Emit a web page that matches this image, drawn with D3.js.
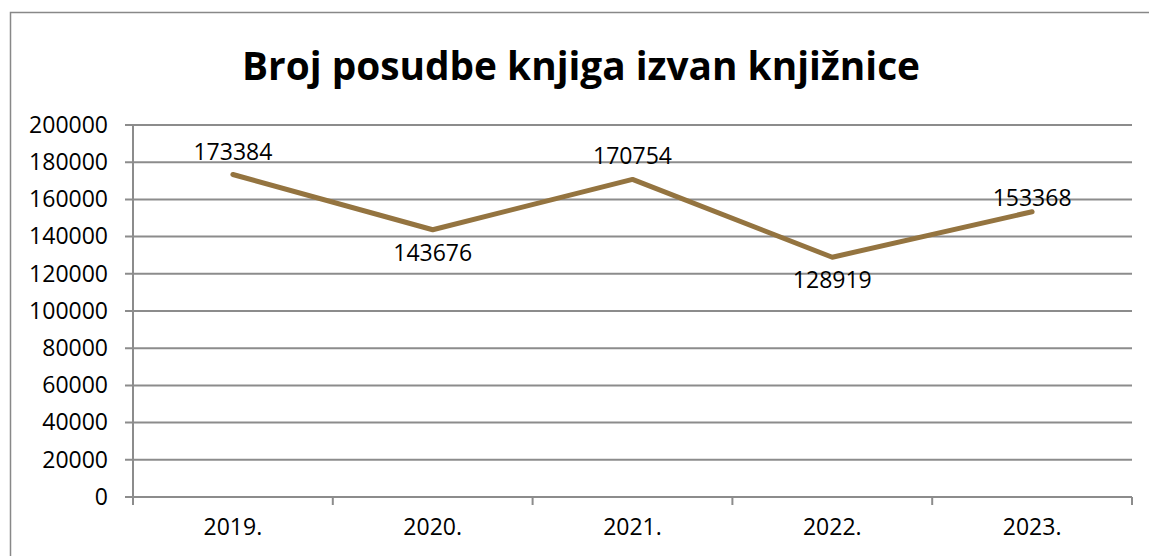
<!DOCTYPE html>
<html>
<head>
<meta charset="utf-8">
<script src="https://cdn.jsdelivr.net/npm/d3@7"></script>
<style>
  html, body { margin: 0; padding: 0; background: #fff; }
  svg { display: block; font-family: "Open Sans", "DejaVu Sans", sans-serif; }
</style>
</head>
<body>
<svg id="chart" width="1149" height="556"></svg>
<script>
const title = "Broj posudbe knjiga izvan knjižnice";
const years = ["2019.", "2020.", "2021.", "2022.", "2023."];
const loans = [173384, 143676, 170754, 128919, 153368];
const yTicks = [0, 20000, 40000, 60000, 80000, 100000, 120000, 140000, 160000, 180000, 200000];

const width = 1149, height = 556;
const plot = { left: 133, right: 1132, top: 125, bottom: 497 };
const gridColor = "#8c8c8c";
const lineColor = "#947440";

const svg = d3.select("#chart");

// chart frame
svg.append("rect")
  .attr("x", 10.5).attr("y", 12.5)
  .attr("width", 1160).attr("height", 600)
  .attr("fill", "#fff")
  .attr("stroke", "#888").attr("stroke-width", 1.5);

svg.append("text")
  .attr("x", 581).attr("y", 80)
  .attr("text-anchor", "middle")
  .attr("font-size", 40).attr("font-weight", 700)
  .attr("textLength", 678).attr("lengthAdjust", "spacingAndGlyphs")
  .attr("fill", "#000")
  .text(title);

const xScale = d3.scaleBand()
  .domain(years)
  .range([plot.left, plot.right]);

const yScale = d3.scaleLinear()
  .domain([0, 200000])
  .range([plot.bottom, plot.top]);

// gridlines
svg.append("g")
  .selectAll("line")
  .data(yTicks)
  .join("line")
  .attr("x1", plot.left - 8).attr("x2", plot.right)
  .attr("y1", d => yScale(d)).attr("y2", d => yScale(d))
  .attr("stroke", gridColor).attr("stroke-width", 2);

// y axis
const yAxis = svg.append("g")
  .attr("transform", `translate(${plot.left},0)`)
  .call(d3.axisLeft(yScale).tickValues(yTicks).tickSize(8).tickPadding(17).tickFormat(d3.format("d")));
yAxis.select(".domain").attr("stroke", gridColor).attr("stroke-width", 2).attr("d", `M0,${plot.top}V${plot.bottom}`);
yAxis.selectAll(".tick line").remove();
yAxis.selectAll(".tick text").attr("font-size", 23).attr("fill", "#000").attr("font-family", "Open Sans");

// x axis with ticks at category boundaries
const xAxis = svg.append("g")
  .attr("transform", `translate(0,${plot.bottom})`)
  .call(d3.axisBottom(xScale).tickSize(0).tickPadding(22));
xAxis.select(".domain").attr("stroke", gridColor).attr("stroke-width", 2).attr("d", `M${plot.left},0H${plot.right}`);
xAxis.selectAll(".tick text").attr("font-size", 23).attr("fill", "#000").attr("font-family", "Open Sans");

const bounds = years.map(d => xScale(d)).concat([xScale.range()[1]]);
xAxis.append("g")
  .selectAll("line")
  .data(bounds)
  .join("line")
  .attr("x1", d => d).attr("x2", d => d)
  .attr("y1", 0).attr("y2", 8)
  .attr("stroke", gridColor).attr("stroke-width", 2);

// line
const pts = years.map((y, i) => ({ year: y, value: loans[i] }));
const line = d3.line()
  .x(d => xScale(d.year) + xScale.bandwidth() / 2)
  .y(d => yScale(d.value));

svg.append("path")
  .datum(pts)
  .attr("d", line)
  .attr("fill", "none")
  .attr("stroke", lineColor)
  .attr("stroke-width", 5)
  .attr("stroke-linecap", "round")
  .attr("stroke-linejoin", "round");

// data labels: above for peaks, below for dips, the last one sits close to the line
function labelDy(d, i) {
  if (i === pts.length - 1) return -14;
  const prev = pts[i - 1], next = pts[i + 1];
  const isDip = (!prev || prev.value > d.value) && (!next || next.value > d.value);
  return isDip ? 23 : -23;
}

svg.append("g")
  .selectAll("text")
  .data(pts)
  .join("text")
  .attr("x", d => xScale(d.year) + xScale.bandwidth() / 2)
  .attr("y", (d, i) => yScale(d.value) + labelDy(d, i))
  .attr("dy", "0.35em")
  .attr("text-anchor", "middle")
  .attr("font-size", 23)
  .attr("fill", "#000")
  .text(d => d.value);
</script>
</body>
</html>
